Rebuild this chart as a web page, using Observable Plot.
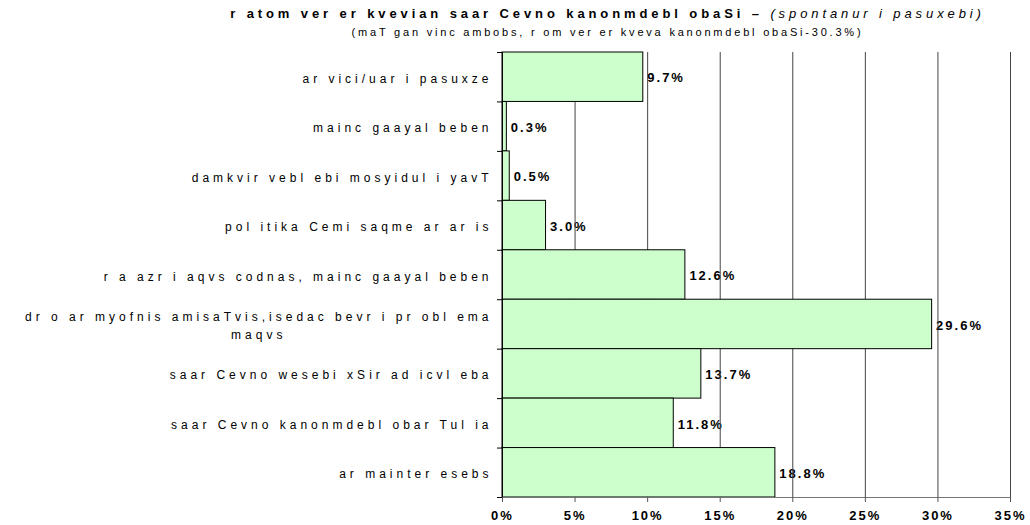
<!DOCTYPE html>
<html><head><meta charset="utf-8">
<script src="https://cdn.jsdelivr.net/npm/d3@7"></script>
<script src="https://cdn.jsdelivr.net/npm/@observablehq/plot@0.6"></script>
<style>
body{margin:0;background:#fff;font-family:Arial,"Liberation Sans",sans-serif;color:#000}
#wrap{position:relative;width:1030px;height:525px;overflow:hidden}
#title{position:absolute;left:185px;width:845px;top:6px;text-align:center;font-size:13px;font-weight:bold;letter-spacing:3.9px;white-space:nowrap}
#title i{font-weight:normal}
#sub{position:absolute;left:185px;width:845px;top:26px;text-align:center;font-size:11px;letter-spacing:2.8px;white-space:nowrap}
#chart{position:absolute;left:0;top:45px}
</style></head><body>
<div id="wrap">
  <div id="title"></div>
  <div id="sub"></div>
  <div id="chart"></div>
</div>
<script>
const titleMain = "r atom ver er kvevian saar Cevno kanonmdebl obaSi – ";
const titleItalic = "(spontanur i pasuxebi)";
const subtitle = "(maT gan vinc ambobs, r om ver er kveva kanonmdebl obaSi-30.3%)";
const categories = [
  "ar vici/uar i pasuxze",
  "mainc gaayal beben",
  "damkvir vebl ebi mosyidul i yavT",
  "pol itika Cemi saqme ar ar is",
  "r a azr i aqvs codnas, mainc gaayal beben",
  "dr o ar myofnis amisaTvis,isedac bevr i pr obl ema\nmaqvs",
  "saar Cevno wesebi xSir ad icvl eba",
  "saar Cevno kanonmdebl obar Tul ia",
  "ar mainter esebs"
];
const values = [9.7, 0.3, 0.5, 3.0, 12.6, 29.6, 13.7, 11.8, 18.8];
const xTicks = [0, 5, 10, 15, 20, 25, 30, 35];

const t = document.getElementById("title");
t.appendChild(document.createTextNode(titleMain));
const it = document.createElement("i"); it.textContent = titleItalic; t.appendChild(it);
document.getElementById("sub").textContent = subtitle;

const rows = categories.map((c, i) => ({c, v: values[i], i}));
const bandEdges = d3.range(categories.length + 1);

const chart = Plot.plot({
  width: 1030, height: 480,
  marginLeft: 502, marginRight: 20, marginTop: 7, marginBottom: 28,
  style: {fontFamily: "Arial, 'Liberation Sans', sans-serif", fontSize: "12px", color: "#000", background: "#fff"},
  x: {domain: [0, 35], label: null},
  y: {domain: [0, categories.length], reverse: true, label: null},
  marks: [
    Plot.text(rows, {x: "v", y: d => d.i + 0.5, text: d => d.v.toFixed(1) + "%", textAnchor: "start", dx: 4, dy: 1, fontWeight: "bold", fontSize: 13, className: "vallab"}),
    Plot.ruleX(xTicks.filter(d => d > 0), {y1: 0, y2: categories.length, stroke: "#444", strokeWidth: 1}),
    Plot.rect(rows, {x1: 0, x2: "v", y1: "i", y2: d => d.i + 1, fill: "#ccffcc", stroke: "#000", strokeWidth: 1}),
    Plot.ruleX([0], {y1: 0, y2: categories.length, stroke: "#000"}),
    Plot.ruleY([categories.length], {x1: 0, x2: 35, stroke: "#777"}),
    Plot.axisY(bandEdges, {tickFormat: () => "", tickSize: 5, stroke: "#000", label: null}),
    Plot.axisX(xTicks, {tickFormat: d => d + "%", tickSize: 5, tickPadding: 8, fontWeight: "bold", fontSize: 13, stroke: "#555", label: null, className: "xlab"}),
    Plot.text(rows, {x: 0, y: d => d.i + 0.5, text: "c", textAnchor: "end", dx: -10, lineAnchor: "middle", lineHeight: 1.45, fontSize: 12, className: "catlab"})
  ]
});
document.getElementById("chart").appendChild(chart);
chart.querySelectorAll(".catlab text").forEach(el => { el.style.letterSpacing = "4px"; });
chart.querySelectorAll(".vallab text, .xlab text").forEach(el => { el.style.letterSpacing = "2px"; });
// center multi-line category labels
chart.querySelectorAll(".catlab text").forEach(el => {
  const spans = el.querySelectorAll("tspan");
  if (spans.length > 1) {
    const w = el.getBBox().width;
    el.setAttribute("text-anchor", "middle");
    spans.forEach(s => s.setAttribute("x", -w / 2));
  }
});
</script>
</body></html>
